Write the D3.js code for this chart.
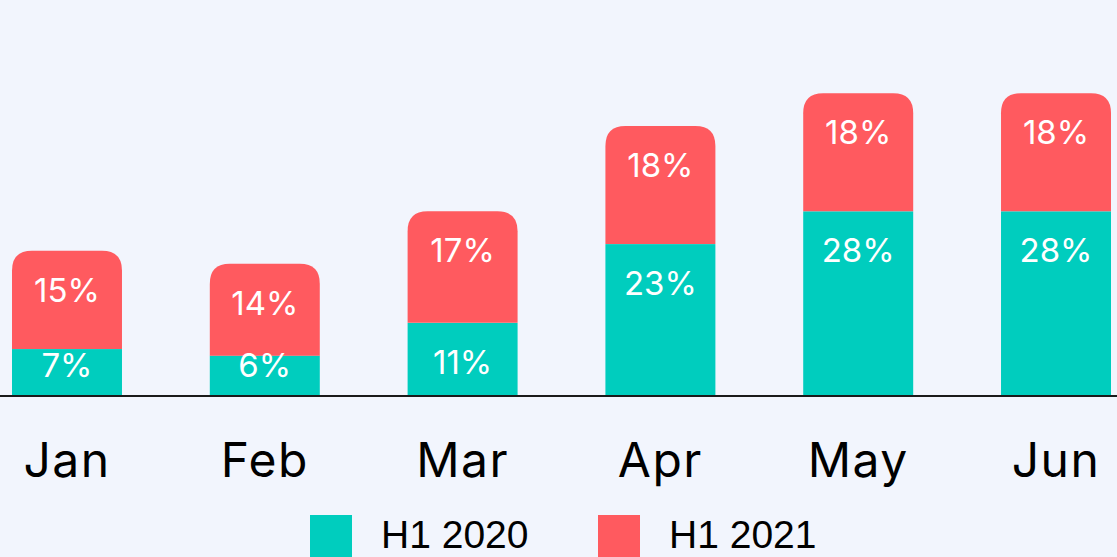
<!DOCTYPE html>
<html lang="en">
<head>
<meta charset="utf-8">
<script src="https://cdn.jsdelivr.net/npm/d3@7"></script>
<style>
  html, body { margin: 0; padding: 0; background: #f2f5fd; }
  svg { display: block; }
  .val { font-family: Inter, "Noto Sans", sans-serif; font-size: 33px; fill: #fff; text-anchor: middle; }
  .month { font-family: Inter, "Noto Sans", sans-serif; font-size: 48px; fill: #000; text-anchor: middle; letter-spacing: 1.5px; }
  .leg { font-family: "Liberation Sans", Arial, sans-serif; font-size: 39px; fill: #000; }
</style>
</head>
<body>
<svg id="chart"></svg>
<script>
// data
var months = ["Jan", "Feb", "Mar", "Apr", "May", "Jun"];
var h12020 = [7, 6, 11, 23, 28, 28];
var h12021 = [15, 14, 17, 18, 18, 18];
var seriesNames = ["H1 2020", "H1 2021"];
var colors = ["#00cdbe", "#ff5a5f"];

var w = 1117, h = 557;
var base = 395;

var svg = d3.select("#chart").attr("width", w).attr("height", h);

var x = d3.scaleBand().domain(months).range([12, 1111]).paddingInner(0.444).paddingOuter(0);
var y = d3.scaleLinear().domain([0, 46]).range([base, base - 46 * 6.56]);

var r = 20;
// rounded top path for the stacked top segment
function topBar(x0, y0, bw, y1) {
  return "M" + x0 + "," + y1 +
    "V" + (y0 + r) +
    "Q" + x0 + "," + y0 + " " + (x0 + r) + "," + y0 +
    "H" + (x0 + bw - r) +
    "Q" + (x0 + bw) + "," + y0 + " " + (x0 + bw) + "," + (y0 + r) +
    "V" + y1 + "Z";
}

var g = svg.selectAll("g.bar").data(months).enter().append("g").attr("class", "bar");

// bottom segments (H1 2020)
g.append("rect")
  .attr("x", d => x(d))
  .attr("width", x.bandwidth())
  .attr("y", (d, i) => y(h12020[i]))
  .attr("height", (d, i) => base - y(h12020[i]))
  .attr("fill", colors[0]);

// top segments (H1 2021)
g.append("path")
  .attr("d", (d, i) => topBar(x(d), y(h12020[i] + h12021[i]), x.bandwidth(), y(h12020[i])))
  .attr("fill", colors[1]);

// labels
g.append("text").attr("class", "val")
  .attr("x", d => x(d) + x.bandwidth() / 2)
  .attr("y", (d, i) => Math.min(y(h12020[i]) + 39, base - 30))
  .attr("dy", "0.36em")
  .text((d, i) => h12020[i] + "%");

g.append("text").attr("class", "val")
  .attr("x", d => x(d) + x.bandwidth() / 2)
  .attr("y", (d, i) => y(h12020[i] + h12021[i]) + 39)
  .attr("dy", "0.36em")
  .text((d, i) => h12021[i] + "%");

// axis line
svg.append("line")
  .attr("x1", 0).attr("x2", w)
  .attr("y1", base + 1).attr("y2", base + 1)
  .attr("stroke", "#1a1a1a").attr("stroke-width", 2);

// month labels
svg.selectAll("text.month").data(months).enter().append("text")
  .attr("class", "month")
  .attr("x", d => x(d) + x.bandwidth() / 2)
  .attr("y", 477)
  .text(d => d);

// legend
var legX = [310, 598];
var leg = svg.selectAll("g.leg").data(seriesNames).enter().append("g")
  .attr("transform", (d, i) => "translate(" + legX[i] + ",515)");
leg.append("rect").attr("width", 42).attr("height", 42).attr("fill", (d, i) => colors[i]);
leg.append("text").attr("class", "leg").attr("x", 71).attr("y", 33).text(d => d);
</script>
</body>
</html>
